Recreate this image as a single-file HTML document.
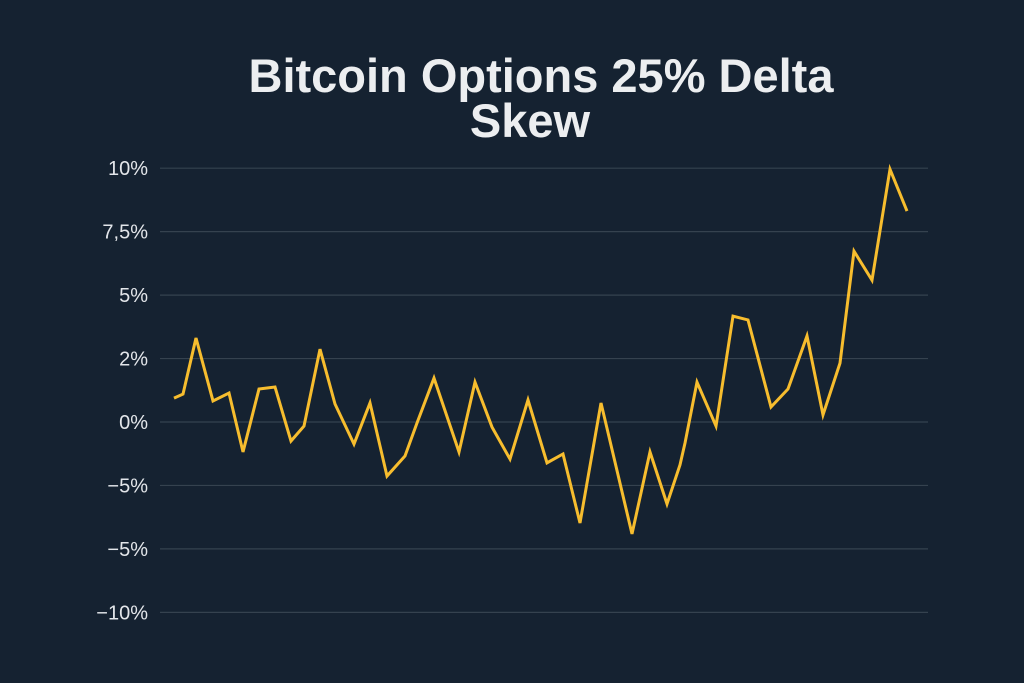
<!DOCTYPE html>
<html><head><meta charset="utf-8"><style>
html,body{margin:0;padding:0;background:#152231;}
svg{display:block}
</style></head><body>
<svg id="chart" width="1024" height="683" xmlns="http://www.w3.org/2000/svg">
<rect width="1024" height="683" fill="#152231"/>
<text x="541" y="92" text-anchor="middle" font-family="Liberation Sans, sans-serif" font-weight="bold" font-size="47" fill="#eceef0">Bitcoin Options 25% Delta</text>
<text x="530" y="137" text-anchor="middle" font-family="Liberation Sans, sans-serif" font-weight="bold" font-size="47" fill="#eceef0">Skew</text>
<g id="grid"></g><g id="yticks"></g><g id="series"></g>
</svg>
<script>
const tickValues=[10,7.5,5,2.5,0,-2.5,-5,-7.5];
const tickLabels=["10%","7,5%","5%","2%","0%","\u22125%","\u22125%","\u221210%"];
const days=[0,9,22,39,55,69,85,101,117,130,146,161,180,196,213,231,243,260,285,301,318,336,354,373,389,406,427,458,476,493,506,511,523,542,559,574,597,614,633,649,666,680,698,716,733];
const skew=[0.94,1.10,3.31,0.83,1.14,-1.18,1.30,1.38,-0.75,-0.16,2.87,0.71,-0.87,0.75,-2.13,-1.34,-0.04,1.73,-1.18,1.57,-0.20,-1.46,0.87,-1.61,-1.26,-3.98,0.75,-4.41,-1.18,-3.23,-1.69,-0.83,1.57,-0.16,4.17,4.02,0.59,1.30,3.39,0.28,2.32,6.73,5.59,9.96,8.31];
const NS="http://www.w3.org/2000/svg";
const x=d=>174+d*(907-174)/733;
const y=v=>422-v*25.38;
const grid=document.getElementById('grid'),yt=document.getElementById('yticks'),ser=document.getElementById('series');
tickValues.forEach((v,i)=>{
const l=document.createElementNS(NS,'line');
l.setAttribute('x1',160);l.setAttribute('x2',928);l.setAttribute('y1',y(v));l.setAttribute('y2',y(v));
l.setAttribute('stroke','#35424f');l.setAttribute('stroke-width','1.2');


grid.appendChild(l);
const t=document.createElementNS(NS,'text');
t.setAttribute('x',148);t.setAttribute('y',y(v)+7);t.setAttribute('text-anchor','end');
t.setAttribute('font-family','Liberation Sans, sans-serif');t.setAttribute('font-size','20');t.setAttribute('fill','#e3e6ea');
t.textContent=tickLabels[i];


yt.appendChild(t);
});
const p=document.createElementNS(NS,'polyline');
p.setAttribute('points',days.map((d,i)=>x(d)+','+y(skew[i])).join(' '));
p.setAttribute('fill','none');p.setAttribute('stroke','#f7bd2e');p.setAttribute('stroke-width','3');p.setAttribute('stroke-linejoin','miter');


ser.appendChild(p);
</script>
</body></html>
